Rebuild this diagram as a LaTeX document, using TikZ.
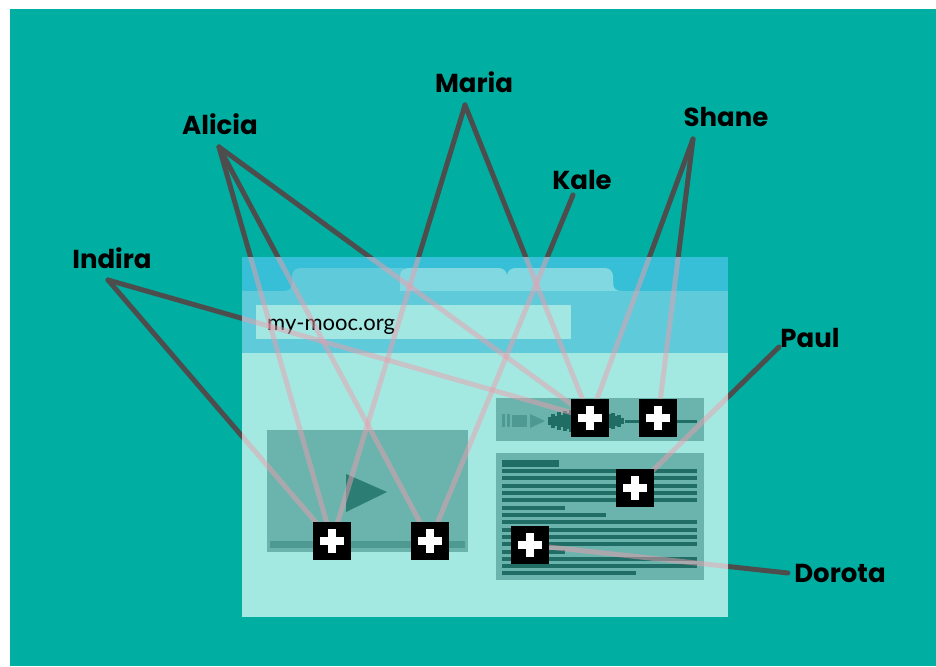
\documentclass[tikz,border=0pt]{standalone}
\usepackage{fontspec}
\setmainfont{Poppins}
\newfontfamily\urlfont{Lato}
\usetikzlibrary{positioning}
\definecolor{sea}{HTML}{00AFA1}
\definecolor{wire}{HTML}{4D4D4D}
\definecolor{wireLit}{HTML}{EC9EAE}
\definecolor{barTop}{HTML}{36BFD6}
\definecolor{barAddr}{HTML}{5FCAD9}
\definecolor{tabOff}{HTML}{82D8E0}
\definecolor{field}{HTML}{A2E7E1}
\definecolor{page}{HTML}{A3E9E2}
\definecolor{panel}{HTML}{6AB4AD}
\definecolor{deep}{HTML}{1F6D65}
\definecolor{track}{HTML}{4E9A92}
\definecolor{playTri}{HTML}{2C7D74}
\pgfdeclarelayer{bg}
\pgfdeclarelayer{under}
\pgfdeclarelayer{web}
\pgfdeclarelayer{over}
\pgfsetlayers{bg,under,web,over,main}

\begin{document}
\begin{tikzpicture}[x=1pt, y=-1pt, font=\fontsize{26pt}{28pt}\selectfont\bfseries]
    \tikzset{
      who/.style={inner sep=0pt, anchor=base, text=black},
      plus/.style={rectangle, fill=black, minimum size=38pt, inner sep=0pt,
                   path picture={
                     \fill[white] ([xshift=-12pt,yshift=-4pt]path picture bounding box.center)
                       rectangle ([xshift=12pt,yshift=4pt]path picture bounding box.center);
                     \fill[white] ([xshift=-4pt,yshift=-12pt]path picture bounding box.center)
                       rectangle ([xshift=4pt,yshift=12pt]path picture bounding box.center);}},
      link/.style={draw=wire, line width=5pt, line cap=round},
      linklit/.style={draw=wireLit, line width=5pt, opacity=0.5},
      textline/.style={draw=deep, line width=3.3pt}
    }
    \useasboundingbox (0,0) rectangle (936,666);
    \begin{pgfonlayer}{bg}
      \fill[white] (0,0) rectangle (936,666);
      \fill[sea] (10,9) rectangle (936,666);
    \end{pgfonlayer}

    % names
    \node[who] (indira) at (112,268) {Indira};
    \node[who] (alicia) at (220,135) {Alicia};
    \node[who] (maria)  at (474,93)  {Maria};
    \node[who] (kale)   at (582,189) {Kale};
    \node[who] (shane)  at (726,127) {Shane};
    \node[who] (paul)   at (810,347) {Paul};
    \node[who] (dorota) at (840,582) {Dorota};
    \coordinate (tIndira) at (108,280);
    \coordinate (tAlicia) at (219,147);
    \coordinate (tMaria)  at (465,105);
    \coordinate (tKale)   at (573,195);
    \coordinate (tShane)  at (693,139);
    \coordinate (tPaul)   at (779,347);
    \coordinate (tDorota) at (788,573);

    % plus markers
    \node[plus] (audA) at (590,418) {};
    \node[plus] (audB) at (658,418) {};
    \node[plus] (txtA) at (635,488) {};
    \node[plus] (txtB) at (530,545) {};
    \node[plus] (vidA) at (332,541) {};
    \node[plus] (vidB) at (430,541) {};

    % browser window
    \begin{pgfonlayer}{web}
      \fill[barTop] (242,257) rectangle (728,291);
      \fill[barAddr, rounded corners=8pt] (292,300) rectangle (410,268);
      \fill[barAddr] (282,291) .. controls (290,291) and (292,289) .. (292,281)
        -- (300,281) -- (300,291) -- cycle;
      \fill[tabOff, rounded corners=8pt] (400,300) rectangle (507,268);
      \fill[tabOff, rounded corners=8pt] (507,300) rectangle (613,268);
      \fill[tabOff] (623,291) .. controls (615,291) and (613,289) .. (613,281)
        -- (605,281) -- (605,291) -- cycle;
      \fill[barAddr] (242,291) rectangle (728,353);
      \fill[field] (256,305) rectangle (571,339);
      \node[anchor=base west, inner sep=0pt, font=\urlfont\fontsize{22pt}{24pt}\selectfont,
            text=black] (url) at (267,330) {my-mooc.org};
      \fill[page] (242,353) rectangle (728,617);
      % video
      \fill[panel] (267,430) rectangle (468,552);
      \fill[track] (270,541) rectangle (465,548);
      \fill[playTri] (346,474) -- (346,512) -- (387,492) -- cycle;
      % audio
      \fill[panel] (496,398) rectangle (704,441);
      \fill[track] (502,414) rectangle (505,427);
      \fill[track] (507,414) rectangle (510,427);
      \fill[track] (512,415) rectangle (527,427);
      \fill[track] (530,414) -- (530,428) -- (545,421) -- cycle;
      \foreach \h [count=\i] in {4,7,5,9,6,10,8,11,7,9,10,8,11,9,7,10,8,9,6,10,7,8,5,6,3}
        \draw[deep, line width=3.2pt] (547+3*\i,421-\h) -- (547+3*\i,421+\h);
      \draw[deep, line width=3pt] (625,421) -- (697,421);
      % article
      \fill[panel] (496,453) rectangle (704,580);
      \fill[deep] (502,460) rectangle (559,467);
      \foreach \y/\e in {471/697, 478/697, 486/697, 493/697, 500/697, 508/565, 515/606,
                         522/697, 530/697, 537/697, 544/697, 552/565, 559/697, 566/697, 573/636}
        \draw[textline] (502,\y) -- (\e,\y);
    \end{pgfonlayer}

    % who marked what
    \begin{pgfonlayer}{under}
      \foreach \a/\b in {tIndira/vidA, tIndira/audA, tAlicia/vidA, tAlicia/vidB,
                         tAlicia/audA, tMaria/vidA, tMaria/audA, tKale/vidB,
                         tShane/audA, tShane/audB, tPaul/txtA, tDorota/txtB}
        \draw[link] (\a) -- (\b.center);
    \end{pgfonlayer}
    \begin{pgfonlayer}{over}
      \clip (242,257) rectangle (728,617);
      \foreach \a/\b in {tIndira/vidA, tIndira/audA, tAlicia/vidA, tAlicia/vidB,
                         tAlicia/audA, tMaria/vidA, tMaria/audA, tKale/vidB,
                         tShane/audA, tShane/audB, tPaul/txtA, tDorota/txtB}
        \draw[linklit] (\a) -- (\b.center);
    \end{pgfonlayer}
  \end{tikzpicture}
\end{document}
